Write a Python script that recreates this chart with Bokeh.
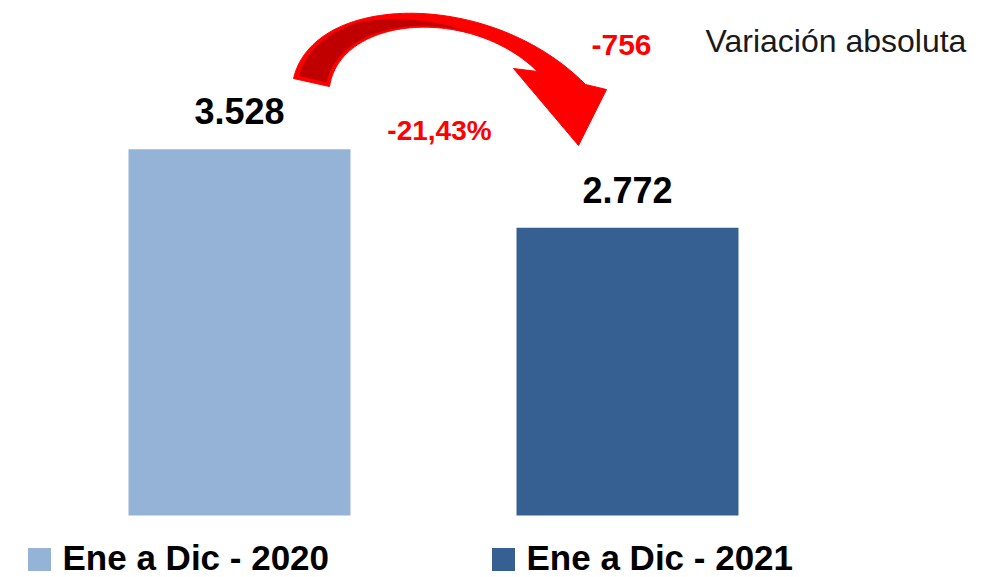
import numpy as np
from bokeh.plotting import figure
from bokeh.models import Range1d
from bokeh.embed import file_html
from bokeh.resources import INLINE
from bokeh.core.properties import value

# ---- data ----
periods = ["Ene a Dic - 2020", "Ene a Dic - 2021"]
totals = [3528, 2772]
bar_colors = ["#95B3D7", "#366092"]
change_caption = "Variación absoluta"

abs_change = totals[1] - totals[0]
pct_change = abs_change / totals[0] * 100


def fmt_thousands(n):
    s = f"{abs(int(n)):,}".replace(",", ".")
    return ("-" if n < 0 else "") + s


def fmt_pct(v):
    return f"{v:.2f}".replace(".", ",") + "%"


# ---- layout helpers (picture pixel -> data) ----
PX_PER_UNIT_X = 388.0
X0_PAGE = 239.0
PX_PER_UNIT_Y = 0.1038
Y0_PAGE = 515.0


def px2x(px):
    return (np.asarray(px, dtype=float) - X0_PAGE) / PX_PER_UNIT_X


def py2y(py):
    return (Y0_PAGE - np.asarray(py, dtype=float)) / PX_PER_UNIT_Y


W, H = 1000, 577
p = figure(width=W, height=H,
           x_range=Range1d(float(px2x(0)), float(px2x(W))),
           y_range=Range1d(float(py2y(H)), float(py2y(0))),
           x_axis_location=None, y_axis_location=None,
           toolbar_location=None, output_backend="svg", min_border=0)
p.outline_line_color = None
p.background_fill_color = "white"
p.border_fill_color = "white"
p.xgrid.visible = False
p.ygrid.visible = False

FONT = value("Liberation Sans")

# bars
xs = list(range(len(totals)))
p.vbar(x=xs, top=totals, width=222 / PX_PER_UNIT_X, fill_color=bar_colors,
       line_color=None)

# value labels
p.text(x=xs, y=totals, text=[fmt_thousands(v) for v in totals], y_offset=-38,
       text_align="center", text_baseline="alphabetic", text_font=FONT,
       text_font_size="36px", text_font_style="bold", text_color="#000000")

# ---- curved arrow ----
def bez(p0, p1, p2, p3, t):
    t = np.asarray(t)[:, None]
    p0, p1, p2, p3 = map(np.array, (p0, p1, p2, p3))
    return ((1 - t) ** 3) * p0 + 3 * ((1 - t) ** 2) * t * p1 + 3 * (1 - t) * t ** 2 * p2 + t ** 3 * p3

OUTER = ((293, 78), (313, -8), (490, -12), (585, 84))
INNER = ((329, 86), (340, 15), (470, 5), (537, 71))
T = np.linspace(0, 1, 60)
outer = bez(*OUTER, T)
inner = bez(*INNER, T)
head = np.array([(606, 89), (578, 145), (513, 68)])
poly = np.vstack([outer, head, inner[::-1]])
p.patch(px2x(poly[:, 0]), py2y(poly[:, 1]), fill_color="#FF0000", line_color="#FF0000",
         line_width=1)

# darker shading on the rising part of the arrow
Td = np.linspace(0.015, 0.7, 40)
o_d = bez(*OUTER, Td)
i_d = bez(*INNER, Td)
a = 0.12 + 0.76 * np.clip((Td - 0.34) / 0.36, 0, 1)[:, None]
b = np.full_like(a, 0.9)
top_edge = o_d + (i_d - o_d) * a
bot_edge = o_d + (i_d - o_d) * b
dpoly = np.vstack([top_edge, bot_edge[::-1]])
p.patch(px2x(dpoly[:, 0]), py2y(dpoly[:, 1]), fill_color="#C00000", line_color=None)

# change annotations
p.text(x=px2x([439]), y=py2y([130]), text=[fmt_pct(pct_change)], text_align="center",
       text_baseline="alphabetic", text_font=FONT, text_font_size="28px",
       text_font_style="bold", text_color="#FF0000")
p.text(x=px2x([621]), y=py2y([44]), text=[fmt_thousands(abs_change)], text_align="center",
       text_baseline="alphabetic", text_font=FONT, text_font_size="30px",
       text_font_style="bold", text_color="#FF0000")
p.text(x=px2x([705]), y=py2y([40]), text=[change_caption], text_align="left",
       text_baseline="alphabetic", text_font=FONT, text_font_size="32px",
       text_color="#1A1A1A")

# ---- legend (manual, bottom) ----
leg_sq_x = px2x([39, 503])
leg_y = py2y([559, 559])
p.scatter(x=leg_sq_x, y=leg_y, marker="square", size=23, fill_color=bar_colors,
          line_color=None)
p.text(x=px2x([62, 526]), y=py2y([557, 557]), text=periods, text_align="left",
       text_baseline="alphabetic", text_font=FONT, text_font_size="35px",
       text_font_style="bold", text_color="#000000")

open("out.html", "w").write(file_html(p, INLINE))
